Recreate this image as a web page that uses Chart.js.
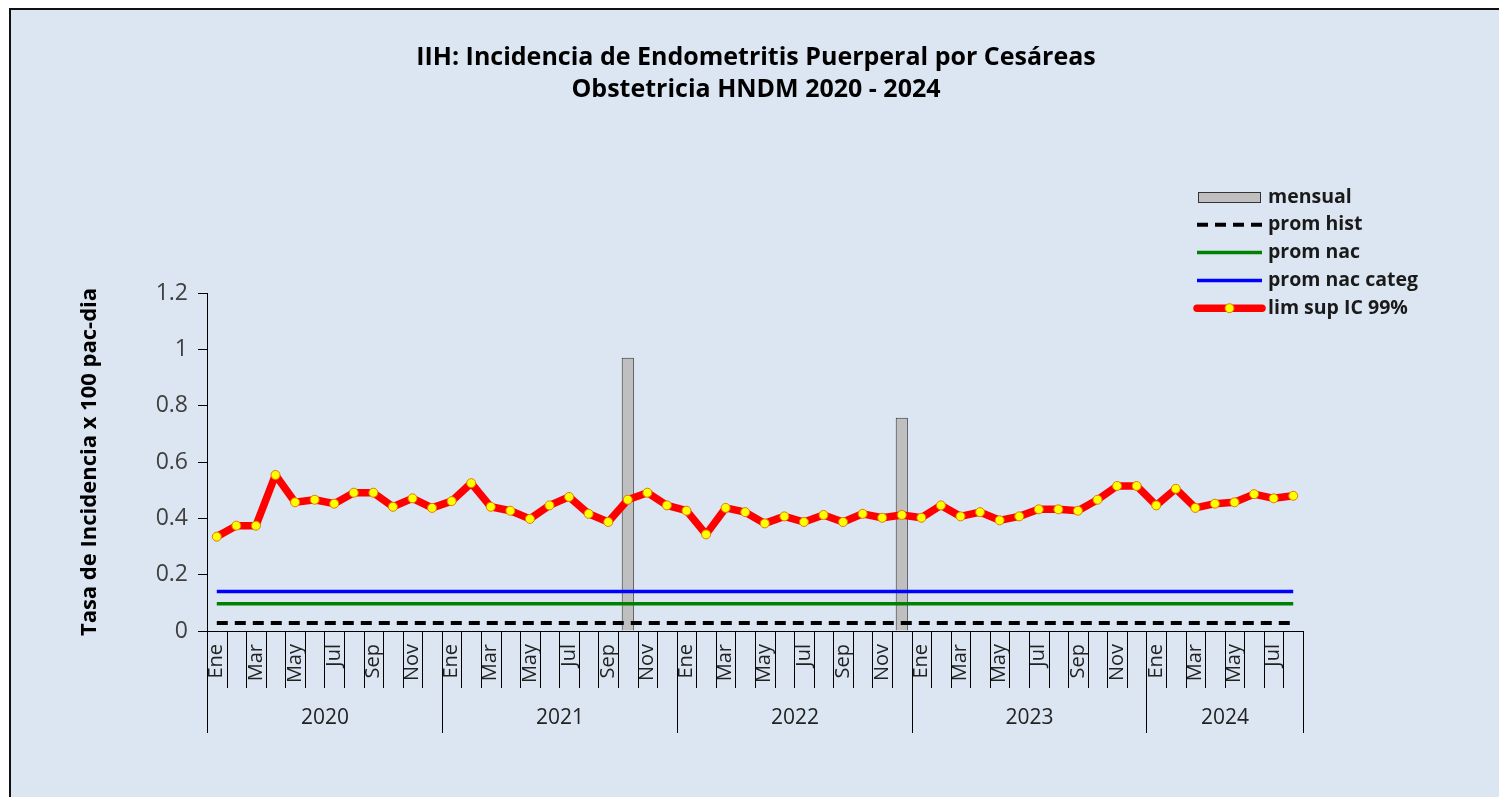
<!DOCTYPE html>
<html><head><meta charset="utf-8">
<script src="https://cdn.jsdelivr.net/npm/chart.js@4.4.1/dist/chart.umd.min.js"></script>
<style>
html,body{margin:0;padding:0;background:#fff;overflow:hidden;}
#frame{position:absolute;left:9px;top:8px;width:1490px;height:789px;background:#dce6f2;border-left:2px solid #111;border-top:2px solid #111;box-sizing:border-box;}
#wrap{position:absolute;left:0;top:0;width:1499px;height:797px;}
</style></head><body>
<div id="frame"></div>
<div id="wrap"><canvas id="c" width="1499" height="797"></canvas></div>
<script>
const years = ['2020','2021','2022','2023','2024'];
const monthsPerYear = [12,12,12,12,8];
const monthNames = ['Ene','Feb','Mar','Abr','May','Jun','Jul','Ago','Sep','Oct','Nov','Dic'];
const mensual = [
 0,0,0,0,0,0,0,0,0,0,0,0,
 0,0,0,0,0,0,0,0,0,0.97,0,0,
 0,0,0,0,0,0,0,0,0,0,0,0.757,
 0,0,0,0,0,0,0,0,0,0,0,0,
 0,0,0,0,0,0,0,0];
const limSup = [
 0.335,0.374,0.374,0.554,0.457,0.466,0.452,0.491,0.491,0.441,0.471,0.437,
 0.461,0.525,0.441,0.427,0.398,0.446,0.476,0.416,0.387,0.466,0.491,0.446,
 0.427,0.343,0.437,0.422,0.382,0.407,0.387,0.412,0.387,0.416,0.402,0.412,
 0.402,0.446,0.407,0.422,0.393,0.407,0.432,0.432,0.427,0.466,0.515,0.515,
 0.446,0.505,0.437,0.452,0.457,0.486,0.471,0.480];
const promHist = 0.028;
const promNac = 0.097;
const promNacCateg = 0.140;
const yTicks = [0,0.2,0.4,0.6,0.8,1,1.2];
const titleLines = ['IIH: Incidencia de Endometritis Puerperal por Cesáreas','Obstetricia HNDM 2020 - 2024'];
const yTitle = 'Tasa de Incidencia x 100 pac-dia';

const categories = [];
years.forEach((y,k)=>{ for(let m=0;m<monthsPerYear[k];m++) categories.push(monthNames[m]); });
const n = categories.length;
const constSeries = v => categories.map(()=>v);

const FONT = '"Open Sans", "Liberation Sans", sans-serif';
Chart.defaults.font.family = FONT;

const datasets = [
 {type:'bar', label:'mensual', data:mensual, backgroundColor:'#bfbfbf', borderColor:'#333', borderWidth:1, barPercentage:0.62, categoryPercentage:1, order:10},
 {type:'line', label:'prom hist', data:constSeries(promHist), borderColor:'#000', borderWidth:4, borderDash:[11,7], pointRadius:0, order:4},
 {type:'line', label:'prom nac', data:constSeries(promNac), borderColor:'#008000', borderWidth:3.5, pointRadius:0, order:3},
 {type:'line', label:'prom nac categ', data:constSeries(promNacCateg), borderColor:'#0000ff', borderWidth:3.5, pointRadius:0, order:2},
 {type:'line', label:'lim sup IC 99%', data:limSup, borderColor:'#ff0000', borderWidth:7.5, borderJoinStyle:'round', borderCapStyle:'round', pointRadius:4.5, pointBackgroundColor:'#ffff00', pointBorderColor:'#e07a00', pointBorderWidth:1, order:1}
];

const overlay = {
 id:'overlay',
 afterDraw(chart){
  const ctx = chart.ctx, x = chart.scales.x;
  const step = x.getPixelForValue(1) - x.getPixelForValue(0);
  const edge = i => x.getPixelForValue(i) - step/2;
  const y0 = x.top;
  ctx.save();
  // title
  ctx.fillStyle = '#000'; ctx.font = 'bold 25px '+FONT; ctx.textAlign='center'; ctx.textBaseline='middle';
  ctx.fillText(titleLines[0], 756, 58);
  ctx.fillText(titleLines[1], 756, 90);
  // month ticks
  ctx.strokeStyle = '#000'; ctx.lineWidth = 1;
  for(let i=0;i<=n;i++){
   const px = Math.round(edge(i))+0.5;
   ctx.beginPath(); ctx.moveTo(px,y0); ctx.lineTo(px,y0+57); ctx.stroke();
  }
  // years
  let start = 0;
  ctx.fillStyle = '#222'; ctx.font = '21px '+FONT; ctx.textAlign='center'; ctx.textBaseline='middle';
  years.forEach((yr,k)=>{
   const end = start + monthsPerYear[k];
   const a = Math.round(edge(start))+0.5, b = Math.round(edge(end))+0.5;
   ctx.beginPath(); ctx.moveTo(a,y0); ctx.lineTo(a,y0+102); ctx.stroke();
   ctx.beginPath(); ctx.moveTo(b,y0); ctx.lineTo(b,y0+102); ctx.stroke();
   ctx.fillText(yr,(a+b)/2,y0+87);
   start = end;
  });
  // legend
  const lx0 = 1197, lx1 = 1262, tx = 1268;
  ctx.font = 'bold 19.5px '+FONT; ctx.textAlign='left'; ctx.textBaseline='middle';
  chart.data.datasets.forEach((ds,k)=>{
   const yy = 197 + k*27.8;
   ctx.save();
   if(ds.type==='bar'){
    ctx.fillStyle = ds.backgroundColor; ctx.strokeStyle = ds.borderColor; ctx.lineWidth=1;
    ctx.fillRect(lx0+1, yy-5, lx1-lx0-2, 10); ctx.strokeRect(lx0+1.5, yy-4.5, lx1-lx0-3, 10);
   } else {
    ctx.strokeStyle = ds.borderColor; ctx.lineWidth = ds.borderWidth; ctx.lineCap = ds.borderCapStyle||'butt';
    if(ds.borderDash) ctx.setLineDash(ds.borderDash);
    ctx.beginPath(); ctx.moveTo(lx0,yy); ctx.lineTo(lx1,yy); ctx.stroke();
    ctx.setLineDash([]);
    if(ds.pointRadius>0){
     ctx.fillStyle = ds.pointBackgroundColor; ctx.strokeStyle = ds.pointBorderColor; ctx.lineWidth=1;
     ctx.beginPath(); ctx.arc((lx0+lx1)/2,yy,ds.pointRadius,0,Math.PI*2); ctx.fill(); ctx.stroke();
    }
   }
   ctx.restore();
   ctx.fillStyle = '#1a1a1a';
   ctx.fillText(ds.label, tx, yy);
  });
  ctx.restore();
 }
};

new Chart(document.getElementById('c'), {
 data:{labels:categories, datasets},
 options:{
  responsive:false, animation:false,
  layout:{padding:{left:70,right:196,top:293,bottom:0}},
  plugins:{
   legend:{display:false}, tooltip:{enabled:false}, title:{display:false}
  },
  scales:{
   x:{type:'category', offset:true,
      grid:{display:true, drawOnChartArea:false, drawTicks:false, offset:true},
      border:{display:true, color:'#000', width:1},
      ticks:{autoSkip:false, minRotation:90, maxRotation:90, padding:13, color:'#222', font:{size:20},
             callback:(v,i)=> i%2===0 ? categories[i] : ''},
      afterFit:s=>{s.height=166;}},
   y:{min:0, max:1.2,
      afterBuildTicks:s=>{s.ticks = yTicks.map(v=>({value:v}));},
      ticks:{padding:10, color:'#404040', font:{size:23}, callback:v=>String(Number(v.toFixed(1)))},
      grid:{drawOnChartArea:false, drawTicks:true, tickLength:9, color:'#000'},
      border:{display:true, color:'#000', width:1},
      title:{display:true, text:yTitle, color:'#000', font:{size:22, weight:'bold'}, padding:{top:7,bottom:0}},
      afterFit:s=>{s.width=137;}}
  }
 },
 plugins:[overlay]
});
</script>
</body></html>
